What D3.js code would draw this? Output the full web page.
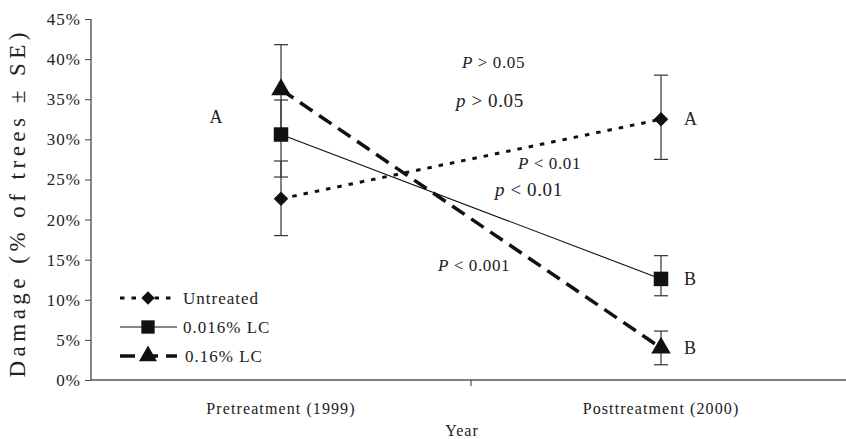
<!DOCTYPE html>
<html>
<head>
<meta charset="utf-8">
<script src="https://cdn.jsdelivr.net/npm/d3@7"></script>
<style>
  body { margin: 0; background: #fff; }
  text { font-family: "Liberation Serif", "DejaVu Serif", serif; fill: #222; }
</style>
</head>
<body>
<svg id="chart" width="846" height="439"></svg>
<script>
// data (percent of trees damaged)
const periods = ["Pretreatment (1999)", "Posttreatment (2000)"];
const seriesNames = ["Untreated", "0.016% LC", "0.16% LC"];
const untreated = [22.6, 32.5];
const untreatedLo = [18.0, 27.5];
const untreatedHi = [27.3, 38.0];
const lowDose = [30.6, 12.6];
const lowDoseLo = [25.3, 10.5];
const lowDoseHi = [34.9, 15.5];
const highDose = [36.2, 4.0];
const highDoseLo = [30.6, 1.9];
const highDoseHi = [41.8, 6.1];
const yTicks = [0, 5, 10, 15, 20, 25, 30, 35, 40, 45];
const groupLetters = [["A", "A"], ["A", "B"], ["A", "B"]];

const svg = d3.select("#chart");
const W = 846;

const x = d3.scaleBand().domain(periods).range([91, 851]);
const y = d3.scaleLinear().domain([0, 45]).range([380, 19]);

const series = [
  { name: seriesNames[0], v: untreated, lo: untreatedLo, hi: untreatedHi, dash: "4.5,7", width: 3, symbol: d3.symbolSquare, rot: 45, size: 105 },
  { name: seriesNames[1], v: lowDose, lo: lowDoseLo, hi: lowDoseHi, dash: null, width: 1.1, symbol: d3.symbolSquare, rot: 0, size: 210 },
  { name: seriesNames[2], v: highDose, lo: highDoseLo, hi: highDoseHi, dash: "15,8", width: 3.5, symbol: d3.symbolTriangle, rot: 0, size: 165 }
];

const cx = p => x(p) + x.bandwidth() / 2;

// y axis
const yAxis = svg.append("g")
  .attr("transform", "translate(91,0)")
  .call(d3.axisLeft(y).tickValues(yTicks).tickSize(6).tickPadding(4).tickFormat(d => d + "%"));
yAxis.select(".domain").attr("stroke", "#444").attr("stroke-width", 1.3).attr("d", "M0,19V380");
yAxis.selectAll(".tick line").attr("stroke", "#444");
yAxis.selectAll(".tick text").style("font-size", "17px").style("letter-spacing", "1px").attr("fill", "#333");

// x axis
svg.append("line").attr("x1", 91).attr("x2", W).attr("y1", 380).attr("y2", 380)
  .attr("stroke", "#555").attr("stroke-width", 1.6);
svg.append("line").attr("x1", x(periods[1])).attr("x2", x(periods[1])).attr("y1", 380).attr("y2", 386)
  .attr("stroke", "#333");
svg.selectAll("text.xlab").data(periods).join("text")
  .attr("class", "xlab")
  .attr("x", d => cx(d)).attr("y", 414)
  .attr("text-anchor", "middle").style("font-size", "16px").style("letter-spacing", "1.1px")
  .text(d => d);

svg.append("text").attr("x", 462).attr("y", 436).attr("text-anchor", "middle")
  .style("font-size", "16px").style("letter-spacing", "1px").text("Year");
svg.append("text").attr("transform", "translate(25,205) rotate(-90)")
  .attr("text-anchor", "middle").style("font-size", "23px")
  .attr("textLength", 345).attr("lengthAdjust", "spacing")
  .text("Damage (% of trees ± SE)");

// error bars
series.forEach(s => {
  periods.forEach((p, i) => {
    const g = svg.append("g").attr("stroke", "#333").attr("stroke-width", 1.2);
    g.append("line").attr("x1", cx(p)).attr("x2", cx(p)).attr("y1", y(s.lo[i])).attr("y2", y(s.hi[i]));
    [s.lo[i], s.hi[i]].forEach(v => {
      g.append("line").attr("x1", cx(p) - 7).attr("x2", cx(p) + 7).attr("y1", y(v)).attr("y2", y(v));
    });
  });
});

// lines
const line = d3.line().x((d, i) => cx(periods[i])).y(d => y(d));
series.forEach(s => {
  svg.append("path").datum(s.v)
    .attr("d", line)
    .attr("fill", "none").attr("stroke", "#111")
    .attr("stroke-width", s.width)
    .attr("stroke-dasharray", s.dash);
});

// markers
series.forEach(s => {
  svg.selectAll(null).data(s.v).join("path")
    .attr("transform", (d, i) => `translate(${cx(periods[i])},${y(d)}) rotate(${s.rot})`)
    .attr("d", d3.symbol().type(s.symbol).size(s.size))
    .attr("fill", "#111");
});

// group letters
svg.append("text").attr("x", 216).attr("y", 123).attr("text-anchor", "middle")
  .style("font-size", "18px").text(groupLetters[0][0]);
series.forEach((s, k) => {
  svg.append("text").attr("x", 684).attr("y", y(s.v[1]) + 6)
    .style("font-size", "18px").text(groupLetters[k][1]);
});

// significance notes
const notes = [
  { t: "P", r: " > 0.05", x: 462, y: 68, fs: 17 },
  { t: "p", r: " > 0.05", x: 456, y: 107, fs: 19 },
  { t: "P", r: " < 0.01", x: 518, y: 169, fs: 17 },
  { t: "p", r: " < 0.01", x: 495, y: 196, fs: 19 },
  { t: "P", r: " < 0.001", x: 438, y: 271, fs: 17 }
];
notes.forEach(n => {
  const t = svg.append("text").attr("x", n.x).attr("y", n.y)
    .style("font-size", n.fs + "px").style("letter-spacing", "0.6px");
  t.append("tspan").style("font-style", "italic").text(n.t);
  t.append("tspan").text(n.r);
});

// legend
const legend = svg.append("g");
series.forEach((s, k) => {
  const ly = 298 + k * 29;
  legend.append("line").attr("x1", 120).attr("x2", 177).attr("y1", ly).attr("y2", ly)
    .attr("stroke", "#111").attr("stroke-width", s.width).attr("stroke-dasharray", s.dash);
  legend.append("path").attr("transform", `translate(148,${ly}) rotate(${s.rot})`)
    .attr("d", d3.symbol().type(s.symbol).size(s.size * 0.85)).attr("fill", "#111");
  legend.append("text").attr("x", k === 2 ? 185 : 183).attr("y", ly + 6)
    .style("font-size", "17px").style("letter-spacing", "1px").text(s.name);
});
</script>
</body>
</html>
